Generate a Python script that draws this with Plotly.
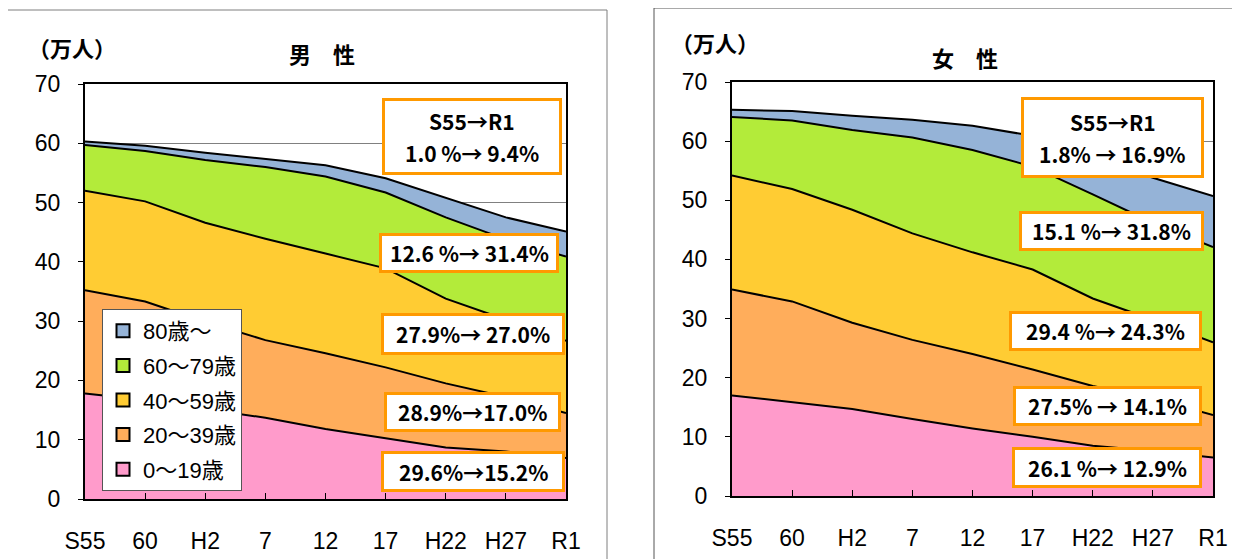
import plotly.graph_objects as go

# ---- data ----
categories = ["S55", "60", "H2", "7", "12", "17", "H22", "H27", "R1"]
group_names = ["0～19歳", "20～39歳", "40～59歳", "60～79歳", "80歳～"]
colors = ["#FF9BCB", "#FFAD5B", "#FFCC33", "#B3EB3A", "#95B3D7"]

male_0_19 = [17.8, 16.7, 15.2, 13.7, 11.8, 10.2, 8.7, 8.0, 6.9]
male_20_39 = [17.4, 16.6, 14.7, 13.1, 12.8, 12.0, 10.8, 9.2, 7.6]
male_40_59 = [16.8, 16.9, 16.7, 17.1, 16.8, 16.7, 14.3, 13.1, 12.2]
male_60_79 = [7.7, 8.5, 10.6, 12.1, 13.0, 12.8, 13.7, 13.5, 14.2]
male_80 = [0.6, 0.9, 1.2, 1.4, 1.9, 2.4, 3.3, 3.7, 4.2]

female_0_19 = [17.0, 15.9, 14.7, 13.0, 11.4, 10.0, 8.5, 7.6, 6.5]
female_20_39 = [17.9, 17.0, 14.6, 13.4, 12.6, 11.4, 10.1, 8.9, 7.2]
female_40_59 = [19.3, 19.0, 19.1, 18.0, 17.2, 16.9, 14.8, 13.3, 12.3]
female_60_79 = [9.9, 11.6, 13.5, 16.2, 17.3, 17.4, 17.6, 16.4, 16.1]
female_80 = [1.2, 1.6, 2.4, 3.0, 4.1, 5.2, 6.3, 7.6, 8.6]

male_labels = [["S55→R1", "1.0 %→ 9.4%"], ["12.6 %→ 31.4%"], ["27.9%→ 27.0%"],
               ["28.9%→17.0%"], ["29.6%→15.2%"]]
female_labels = [["S55→R1", "1.8% → 16.9%"], ["15.1 %→ 31.8%"], ["29.4 %→ 24.3%"],
                 ["27.5% → 14.1%"], ["26.1 %→ 12.9%"]]

male_series = [male_0_19, male_20_39, male_40_59, male_60_79, male_80]
female_series = [female_0_19, female_20_39, female_40_59, female_60_79, female_80]

OFF = 8                      # page body margin
W, H = 1240 - OFF, 559 - OFF
FONT = "Liberation Sans Narrow, Liberation Sans, Noto Sans CJK JP, sans-serif"
LEGFONT = "Liberation Sans, Noto Sans CJK JP, sans-serif"
CJK = "Noto Sans CJK JP, sans-serif"


def px_x(v):
    return (v - OFF) / W


def px_y(v):
    return 1 - (v - OFF) / H


fig = go.Figure()

for i, vals in enumerate(male_series):
    fig.add_trace(go.Scatter(
        x=categories, y=vals, name=group_names[i], stackgroup="m",
        mode="lines", line=dict(color="black", width=2),
        fillcolor=colors[i], showlegend=False, xaxis="x", yaxis="y",
        hoverinfo="skip"))

for i, vals in enumerate(female_series):
    fig.add_trace(go.Scatter(
        x=categories, y=vals, name=group_names[i], stackgroup="f",
        mode="lines", line=dict(color="black", width=2),
        fillcolor=colors[i], showlegend=False, xaxis="x2", yaxis="y2",
        hoverinfo="skip"))

# legend entries (top: 80歳～)
for i in reversed(range(5)):
    fig.add_trace(go.Scatter(
        x=[None], y=[None], mode="markers", name=group_names[i],
        legendgroup=group_names[i],
        marker=dict(symbol="square", size=13, color=colors[i],
                    line=dict(color="black", width=2)),
        xaxis="x", yaxis="y"))

axis_common = dict(
    showline=True, linecolor="black", linewidth=2, mirror=True,
    tickfont=dict(family=FONT, size=23, color="black"),
    automargin=False,
)

xcommon = dict(axis_common, type="category", categoryorder="array",
               categoryarray=categories, range=[0, 8], ticks="inside",
               ticklen=6, tickcolor="black", tickwidth=1, showgrid=False,
               ticklabelstandoff=20)
ycommon = dict(axis_common, range=[0, 70], dtick=10, ticks="outside",
               ticklen=5, tickcolor="black", tickwidth=1, showgrid=True,
               gridcolor="#808080", gridwidth=1, zeroline=False,
               ticklabelstandoff=13)

fig.update_layout(
    width=W, height=H, autosize=False,
    margin=dict(l=0, r=0, t=0, b=0, pad=0, autoexpand=False),
    paper_bgcolor="white", plot_bgcolor="white",
    xaxis=dict(xcommon, domain=[px_x(85), px_x(566)], anchor="y"),
    yaxis=dict(ycommon, domain=[px_y(499), px_y(84)], anchor="x"),
    xaxis2=dict(xcommon, domain=[px_x(732), px_x(1213)], anchor="y2"),
    yaxis2=dict(ycommon, domain=[px_y(496), px_y(82)], anchor="x2"),
    showlegend=True,
    legend=dict(x=px_x(102), y=px_y(309), xanchor="left", yanchor="top",
                bgcolor="white", bordercolor="#555555", borderwidth=1,
                font=dict(family=LEGFONT, size=22, color="black"),
                tracegroupgap=3, itemclick=False),
)

# panel borders
fig.add_shape(type="rect", xref="paper", yref="paper",
              x0=px_x(6), x1=px_x(607), y0=-0.02, y1=px_y(10),
              line=dict(color="#7f7f7f", width=1), fillcolor="rgba(0,0,0,0)",
              layer="below")
fig.add_shape(type="rect", xref="paper", yref="paper",
              x0=px_x(654), x1=1.01, y0=-0.02, y1=px_y(8),
              line=dict(color="#555555", width=1), fillcolor="rgba(0,0,0,0)",
              layer="below")


def text_at(txt, x, y, size, family, bold=False, xanchor="center"):
    fig.add_annotation(text=txt, x=px_x(x), y=px_y(y), xref="paper", yref="paper",
                       xanchor=xanchor, yanchor="middle", showarrow=False,
                       font=dict(family=family, size=size, color="black",
                                 weight="bold" if bold else "normal"))


# titles
text_at("男　性", 322, 53, 22, CJK, bold=True)
text_at("女　性", 965, 57, 22, CJK, bold=True)
text_at("（万人）", 26, 47, 22, CJK, bold=True, xanchor="left")
text_at("（万人）", 669, 42, 22, CJK, bold=True, xanchor="left")

# percentage boxes (left, top, right, bottom in pixels)
male_boxes = [(382, 98, 562, 175), (379, 233, 559, 273), (381, 313, 565, 355),
              (384, 392, 561, 432), (381, 451, 565, 492)]
female_boxes = [(1021, 97, 1204, 178), (1019, 211, 1204, 251), (1009, 311, 1202, 351),
                (1013, 386, 1202, 426), (1012, 447, 1202, 488)]

BW = 3
for labels, boxes in ((male_labels, male_boxes), (female_labels, female_boxes)):
    for lines, (l, t, r, b) in zip(labels, boxes):
        fig.add_shape(type="rect", xref="paper", yref="paper",
                      x0=px_x(l + BW / 2), x1=px_x(r - BW / 2),
                      y0=px_y(b - BW / 2), y1=px_y(t + BW / 2),
                      line=dict(color="#FF9900", width=BW), fillcolor="white",
                      layer="above")
        n = len(lines)
        cy = (t + b) / 2
        spacing = 32
        for k, line in enumerate(lines):
            y = cy + (k - (n - 1) / 2) * spacing
            text_at(line, (l + r) / 2, y, 21, CJK, bold=True)

fig.write_html("out.html")
